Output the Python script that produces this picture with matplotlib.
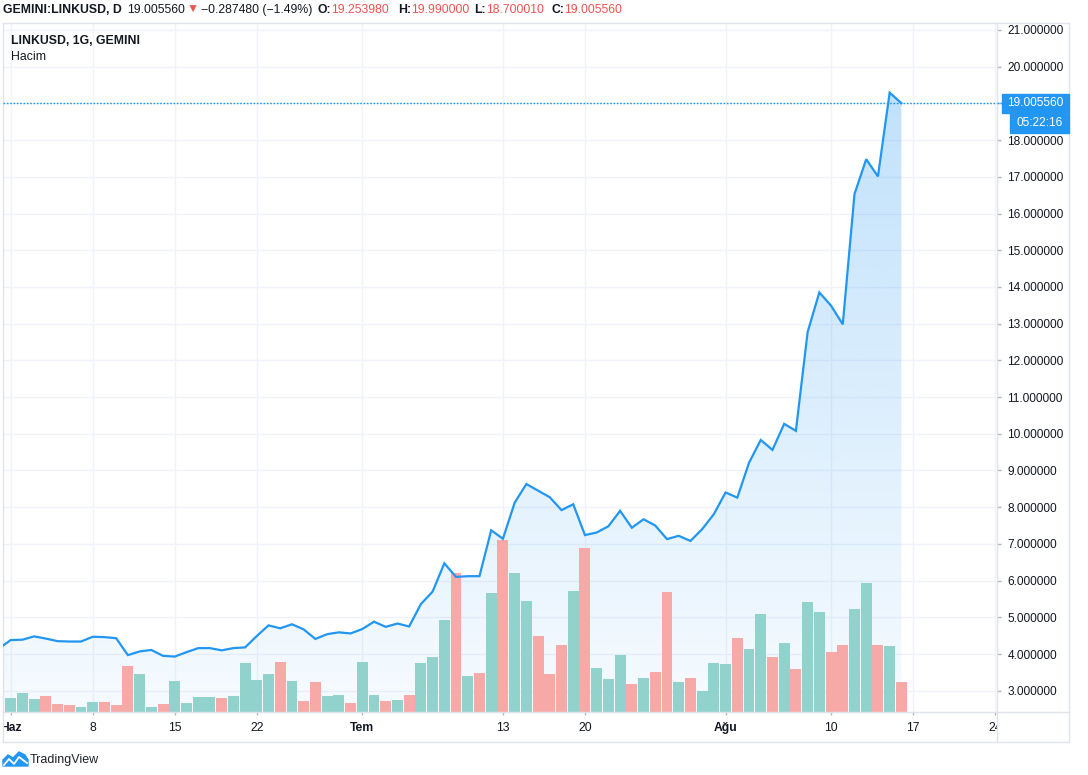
import numpy as np
import pandas as pd
import matplotlib
matplotlib.use('Agg')
import matplotlib.pyplot as plt
import matplotlib.dates as mdates
from matplotlib.lines import Line2D
from matplotlib.patches import Rectangle, Polygon
from matplotlib.path import Path
from matplotlib.transforms import Bbox, Affine2D, blended_transform_factory
from matplotlib.colors import to_rgb

plt.rcParams['font.family'] = ['Liberation Sans', 'DejaVu Sans']

W, H = 1088, 775

# daily LINKUSD closes (GEMINI), 31 May - 16 Aug 2020
dates = pd.date_range('2020-05-31', '2020-08-16', freq='D')
close = [4.15, 4.38, 4.39, 4.48, 4.42, 4.35, 4.34, 4.34, 4.47, 4.46,
         4.43, 3.97, 4.07, 4.11, 3.95, 3.93, 4.05, 4.16, 4.16, 4.10,
         4.16, 4.18, 4.49, 4.78, 4.70, 4.81, 4.67, 4.41, 4.54, 4.59,
         4.56, 4.68, 4.88, 4.74, 4.83, 4.75, 5.36, 5.70, 6.47, 6.10,
         6.12, 6.12, 7.37, 7.14, 8.12, 8.63, 8.45, 8.27, 7.92, 8.08,
         7.24, 7.31, 7.48, 7.90, 7.44, 7.67, 7.50, 7.13, 7.22, 7.08,
         7.40, 7.81, 8.40, 8.26, 9.21, 9.83, 9.56, 10.27, 10.08, 12.77,
         13.85, 13.49, 12.98, 16.53, 17.48, 17.01, 19.29304, 19.005560]
# volume (relative units), and whether the day closed up
volume = [8, 14, 19, 13, 16, 8, 7, 5, 10, 10,
          7, 46, 38, 5, 8, 31, 9, 15, 15, 14,
          16, 49, 32, 38, 50, 31, 11, 30, 16, 17,
          9, 50, 17, 11, 12, 17, 49, 55, 92, 139,
          36, 39, 119, 172, 139, 111, 76, 38, 67, 121,
          164, 44, 33, 57, 28, 34, 40, 120, 30, 34,
          21, 49, 48, 74, 63, 98, 55, 69, 43, 110,
          100, 60, 67, 103, 129, 67, 66, 30]
vol_up = [0, 1, 1, 1, 0, 0, 0, 1, 1, 0,
          0, 0, 1, 1, 0, 1, 1, 1, 1, 0,
          1, 1, 1, 1, 0, 1, 0, 0, 1, 1,
          0, 1, 1, 0, 1, 0, 1, 1, 1, 0,
          1, 0, 1, 0, 1, 1, 0, 0, 0, 1,
          0, 1, 1, 1, 0, 1, 0, 0, 1, 0,
          1, 1, 1, 0, 1, 1, 0, 1, 0, 1,
          1, 0, 0, 1, 1, 0, 1, 0]

tick_dates = ['2020-06-01', '2020-06-08', '2020-06-15', '2020-06-22', '2020-07-01',
              '2020-07-13', '2020-07-20', '2020-08-01', '2020-08-10', '2020-08-17',
              '2020-08-24']
tick_labels = ['Haz', '8', '15', '22', 'Tem', '13', '20', 'Ağu', '10', '17', '24']
price_ticks = list(range(3, 22))

# header pieces: text, weight, colour, x in reference, gap after previous piece
header = [('GEMINI:LINKUSD, D', 'bold', '#131722', 3, 0),
          ('19.005560', 'normal', '#131722', 124, 5),
          ('▼', 'normal', '#ef5350', 187, 2),
          ('−0.287480 (−1.49%)', 'normal', '#131722', 198, 2),
          ('O:', 'bold', '#131722', 318, 4), ('19.253980', 'normal', '#ef5350', 331, 0),
          ('H:', 'bold', '#131722', 398, 5), ('19.990000', 'normal', '#ef5350', 411, 0),
          ('L:', 'bold', '#131722', 474, 5), ('18.700010', 'normal', '#ef5350', 486, 0),
          ('C:', 'bold', '#131722', 551, 5), ('19.005560', 'normal', '#ef5350', 562, 0)]

BLUE = '#2196f3'
BORDER = '#e0e3eb'
GRID = '#f0f3fa'
TXT = '#131722'


def fx(x):
    return x / W


def fy(y):
    return 1 - y / H


fig = plt.figure(figsize=(W / 100, H / 100), dpi=100)
fig.patch.set_facecolor('white')

# price pane: x 3..997, y 23..712 (pixels)
ax = fig.add_axes([fx(3), fy(712), fx(997) - fx(3), fy(23) - fy(712)])
xs = mdates.date2num(dates)
d0 = mdates.date2num(pd.Timestamp('2020-06-01'))
x_lo, x_hi = d0 - 0.657, d0 + 84.16
y_lo, y_hi = 2.42, 21.19

ax.set_axisbelow(True)
ax.grid(True, color=GRID, lw=1)

# gradient area under the line
rgba = np.zeros((256, 1, 4))
rgba[..., :3] = to_rgb(BLUE)
rgba[..., 3] = np.linspace(0.28, 0.04, 256)[:, None]
im = ax.imshow(rgba, extent=[xs[0], xs[-1], y_lo, max(close)], aspect='auto',
               origin='upper', zorder=1, interpolation='bilinear')
verts = [(xs[0], y_lo)] + list(zip(xs, close)) + [(xs[-1], y_lo)]
im.set_clip_path(Path(verts), transform=ax.transData)

# volume bars, scaled to the pane height in pixels
vol_tr = blended_transform_factory(ax.transData, Affine2D().scale(1, 1 / 689) + ax.transAxes)
colors = ['#92d2cc' if u else '#f7a9a7' for u in vol_up]
ax.bar(xs, volume, width=0.93, color=colors, transform=vol_tr, zorder=1.5, linewidth=0)

ax.plot(xs, close, color=BLUE, lw=1.6, zorder=3, solid_joinstyle='miter')
ax.axhline(close[-1], color=BLUE, lw=1, ls=(0, (1.2, 1.2)), zorder=4)

ax.set_xlim(x_lo, x_hi)
ax.set_ylim(y_lo, y_hi)

ax.yaxis.tick_right()
ax.set_yticks(price_ticks)
ax.set_yticklabels([f'{v:.6f}' for v in price_ticks])
ax.tick_params(axis='y', direction='out', length=3, width=1, color='#b2b5be',
               pad=4.5, labelsize=8.6, labelcolor=TXT)
tick_x = mdates.date2num(pd.to_datetime(tick_dates))
ax.set_xticks(tick_x)
ax.set_xticklabels([])
ax.tick_params(axis='x', direction='out', length=2, width=1, color='#b2b5be')
for s in ax.spines.values():
    s.set_color(BORDER)
    s.set_linewidth(1)

# time axis labels, clipped to the time axis strip
clip = Bbox([[3, H - 742], [997, H - 712]])
for x, lab in zip(tick_x, tick_labels):
    bold = not lab.isdigit()
    t = ax.text(x, -0.023, lab, transform=ax.get_xaxis_transform(), ha='center',
                va='center', fontsize=8.7, color=TXT,
                fontweight='bold' if bold else 'normal')
    t.set_clip_on(True)
    t.set_clip_box(clip)

# outer frame of the chart widget
frame = [((997, 1069), (23, 23)), ((1069, 1069), (23, 742)), ((3, 1069), (742, 742)),
         ((3, 3), (712, 742)), ((997, 997), (712, 742)), ((997, 1069), (712, 712))]
for (x1, x2), (y1, y2) in frame:
    fig.add_artist(Line2D([fx(x1), fx(x2)], [fy(y1), fy(y2)], color=BORDER, lw=1,
                          transform=fig.transFigure))

# last price and countdown labels
fig.add_artist(Line2D([fx(997), fx(1002)], [fy(103.3), fy(103.3)], color=BLUE, lw=1,
                      ls=(0, (1.2, 1.2)), transform=fig.transFigure, zorder=5))
fig.add_artist(Rectangle((fx(1002), fy(112.5)), fx(67), 18.5 / H, color=BLUE,
                         transform=fig.transFigure, zorder=5))
fig.text(fx(1007), fy(103.5), f'{close[-1]:.6f}', color='white', fontsize=8.6,
         va='center', ha='left', zorder=6)
fig.add_artist(Rectangle((fx(1010), fy(132.5)), fx(59), 18.5 / H, color=BLUE,
                         transform=fig.transFigure, zorder=5))
fig.text(fx(1039.5), fy(123.5), '05:22:16', color='white', fontsize=8.6,
         va='center', ha='center', zorder=6)

# header line, laid out left to right so pieces never collide
renderer = fig.canvas.get_renderer()
end = 0
for txt, wt, col, x, gap in header:
    x = max(x, end + gap)
    t = fig.text(fx(x), fy(10), txt, color=col, fontweight=wt, fontsize=8.8,
                 va='center', ha='left')
    end = t.get_window_extent(renderer).x1

# pane legend
fig.text(fx(11), fy(41), 'LINKUSD, 1G, GEMINI', color=TXT, fontweight='bold',
         fontsize=8.8, va='center', ha='left')
fig.text(fx(11), fy(57.5), 'Hacim', color=TXT, fontsize=8.8, va='center', ha='left')

# TradingView logo
logo = [(3, 766), (3, 760), (8, 755), (13, 758), (19, 752), (25, 755), (28, 760), (28, 766)]
fig.add_artist(Polygon([(fx(a), fy(b)) for a, b in logo], closed=True, color=BLUE,
                       transform=fig.transFigure))
zig = [(4, 765), (9, 759), (14, 764), (19, 757), (27, 763)]
fig.add_artist(Line2D([fx(a) for a, b in zig], [fy(b) for a, b in zig], color='white',
                      lw=1.3, transform=fig.transFigure))
fig.text(fx(30), fy(760), 'TradingView', color='#1e222d', fontsize=9,
         va='center', ha='left')

fig.savefig('out.png', dpi=100, facecolor='white')
